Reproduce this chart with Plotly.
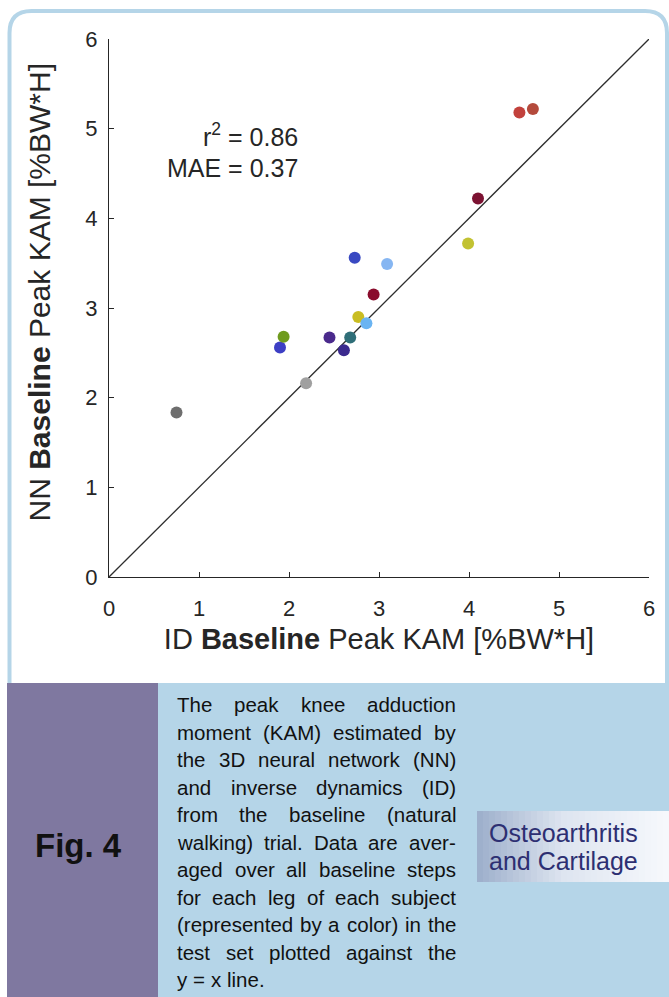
import plotly.graph_objects as go

# Peak KAM averaged per leg of each test subject: inverse dynamics (x) vs neural network (y)
id_kam = [0.75, 2.19, 1.90, 1.94, 2.45, 2.61, 2.68, 2.77, 2.86, 2.94, 2.73, 3.09, 3.99, 4.10, 4.56, 4.71]
nn_kam = [1.835, 2.16, 2.56, 2.68, 2.67, 2.53, 2.67, 2.90, 2.83, 3.15, 3.56, 3.49, 3.72, 4.22, 5.18, 5.22]
subject_colors = ["#6e6e6e", "#a0a0a0", "#3d3fc4", "#6f9b1e", "#4a2a8c", "#3b2a8e",
                  "#2f6e78", "#c9bd22", "#6ab4f2", "#8a0c2c", "#3949c2", "#86b6f2",
                  "#c2c232", "#7c1232", "#c2413c", "#b44a3c"]
tick_values = [0, 1, 2, 3, 4, 5, 6]
identity_line = [0, 6]
stats_text = ["r<sup>2</sup> = 0.86", "MAE = 0.37"]
x_title = "ID <b>Baseline</b> Peak KAM [%BW*H]"
y_title = "NN <b>Baseline</b> Peak KAM [%BW*H]"
fig_label = "Fig. 4"
caption_lines = [
    "The peak knee adduction",
    "moment (KAM) estimated by",
    "the 3D neural network (NN)",
    "and inverse dynamics (ID)",
    "from the baseline (natural",
    "walking) trial. Data are aver-",
    "aged over all baseline steps",
    "for each leg of each subject",
    "(represented by a color) in the",
    "test set plotted against the",
    "y = x line.",
]
journal_lines = ["Osteoarthritis", "and Cartilage"]

W, H = 669, 997
PL, PR, PT, PB = 109, 649, 39, 577  # plot area edges in pixels

def xp(px):
    return (px - PL) / (PR - PL)

def yp(py):
    return (PB - py) / (PB - PT)

# Arial / Liberation Sans advance widths (per 1000 em) for justified caption layout
ARIAL = {' ': 278, '(': 333, ')': 333, '-': 333, '.': 278, '=': 584, '3': 556,
         'A': 667, 'D': 722, 'I': 278, 'K': 667, 'M': 833, 'N': 722, 'T': 611,
         'a': 556, 'b': 556, 'c': 500, 'd': 556, 'e': 556, 'f': 278, 'g': 556,
         'h': 556, 'i': 222, 'j': 222, 'k': 500, 'l': 222, 'm': 833, 'n': 556,
         'o': 556, 'p': 556, 'q': 556, 'r': 333, 's': 500, 't': 278, 'u': 556,
         'v': 500, 'w': 722, 'x': 500, 'y': 500, 'z': 500}

def text_w(s, size):
    return sum(ARIAL.get(c, 556) for c in s) / 1000.0 * size

TXT = "#262626"
FONT = "Liberation Sans, Arial, sans-serif"

fig = go.Figure()

fig.add_trace(go.Scatter(
    x=identity_line, y=identity_line, mode="lines",
    line=dict(color="#2e2e2e", width=1.3), hoverinfo="skip", showlegend=False))

fig.add_trace(go.Scatter(
    x=id_kam, y=nn_kam, mode="markers",
    marker=dict(size=12, color=subject_colors, line=dict(width=0)),
    showlegend=False))

axis_common = dict(
    range=[0, 6], tickvals=tick_values, ticks="inside", ticklen=5, tickwidth=1,
    tickcolor=TXT, showline=True, linecolor=TXT, linewidth=1, showgrid=False,
    zeroline=False, mirror=False, tickfont=dict(family=FONT, size=22, color=TXT),
)

fig.update_xaxes(**axis_common, ticklabelstandoff=12,
                 title=dict(text=x_title, font=dict(family=FONT, size=29, color=TXT), standoff=8))
fig.update_yaxes(**axis_common, ticklabelstandoff=6)

shapes = []
# outer rounded frame
r = 22
fx0, fx1, fy0, fyb = 9.5, 667, 11, 683
path = (f"M {xp(fx0)},{yp(fyb)} L {xp(fx0)},{yp(fy0 + r)} "
        f"Q {xp(fx0)},{yp(fy0)} {xp(fx0 + r)},{yp(fy0)} "
        f"L {xp(fx1 - r)},{yp(fy0)} Q {xp(fx1)},{yp(fy0)} {xp(fx1)},{yp(fy0 + r)} "
        f"L {xp(fx1)},{yp(fyb)}")
shapes.append(dict(type="path", path=path, xref="paper", yref="paper",
                   line=dict(color="#b5d5e8", width=4), layer="below"))
# caption panels
shapes.append(dict(type="rect", xref="paper", yref="paper", x0=xp(7), x1=xp(158),
                   y0=yp(683), y1=yp(H + 2), fillcolor="#7f78a0", line=dict(width=0), layer="below"))
shapes.append(dict(type="rect", xref="paper", yref="paper", x0=xp(158), x1=xp(W + 2),
                   y0=yp(683), y1=yp(H + 2), fillcolor="#b5d5e8", line=dict(width=0), layer="below"))

# journal badge background (horizontal fade)
lx0, lx1, ly0, ly1 = 477, 669, 811, 882
c_left, c_mid, c_right = (158, 176, 204), (222, 229, 240), (246, 248, 252)
n_strips = 32
for k in range(n_strips):
    t = k / (n_strips - 1)
    if t < 0.45:
        u = t / 0.45
        c = [round(a + (b - a) * u) for a, b in zip(c_left, c_mid)]
    else:
        u = (t - 0.45) / 0.55
        c = [round(a + (b - a) * u) for a, b in zip(c_mid, c_right)]
    sx0 = lx0 + (lx1 - lx0) * k / n_strips
    sx1 = lx0 + (lx1 - lx0) * (k + 1) / n_strips + 0.5
    shapes.append(dict(type="rect", xref="paper", yref="paper", x0=xp(sx0), x1=xp(sx1),
                       y0=yp(ly1), y1=yp(ly0), fillcolor=f"rgb({c[0]},{c[1]},{c[2]})",
                       line=dict(width=0), layer="below"))

annotations = []
# y-axis title
annotations.append(dict(text=y_title, x=xp(38.5), y=yp(293), xref="paper", yref="paper",
                        xanchor="center", yanchor="middle", textangle=-90, showarrow=False,
                        font=dict(family=FONT, size=30, color=TXT)))

# statistics inside the axes
for txt, yc in zip(stats_text, [4.93, 4.56]):
    annotations.append(dict(text=txt, x=2.12, y=yc, xref="x", yref="y", xanchor="right",
                            yanchor="middle", showarrow=False,
                            font=dict(family=FONT, size=25, color=TXT)))

# figure label
annotations.append(dict(text=f"<b>{fig_label}</b>", x=xp(78), y=yp(845), xref="paper", yref="paper",
                        xanchor="center", yanchor="middle", showarrow=False,
                        font=dict(family=FONT, size=33, color="#111111")))

# justified caption, word by word
cap_size = 20.5
cap_left, cap_right = 176, 455
base0, lead = 711.7, 27.5
for i, line in enumerate(caption_lines):
    words = line.split(" ")
    widths = [text_w(w, cap_size) for w in words]
    if i < len(caption_lines) - 1 and len(words) > 1:
        gap = (cap_right - cap_left - sum(widths)) / (len(words) - 1)
    else:
        gap = text_w(" ", cap_size)
    baseline = base0 + lead * i
    yc = baseline - 0.35 * cap_size
    xcur = cap_left
    for w, ww in zip(words, widths):
        annotations.append(dict(text=w, x=xp(xcur), y=yp(yc), xref="paper", yref="paper",
                                xanchor="left", yanchor="middle", showarrow=False, borderpad=0,
                                font=dict(family=FONT, size=cap_size, color="#111111")))
        xcur += ww + gap

# journal name
j_size = 25
for txt, bl in zip(journal_lines, [841.5, 870]):
    annotations.append(dict(text=txt, x=xp(488), y=yp(bl - 0.35 * j_size), xref="paper", yref="paper",
                            xanchor="left", yanchor="middle", showarrow=False, borderpad=0,
                            font=dict(family=FONT, size=j_size, color="#2d2f72")))

fig.update_layout(
    width=W, height=H,
    margin=dict(l=PL, r=W - PR, t=PT, b=H - PB, pad=0),
    paper_bgcolor="white", plot_bgcolor="white",
    shapes=shapes, annotations=annotations, showlegend=False,
)

fig.write_html("out.html")
